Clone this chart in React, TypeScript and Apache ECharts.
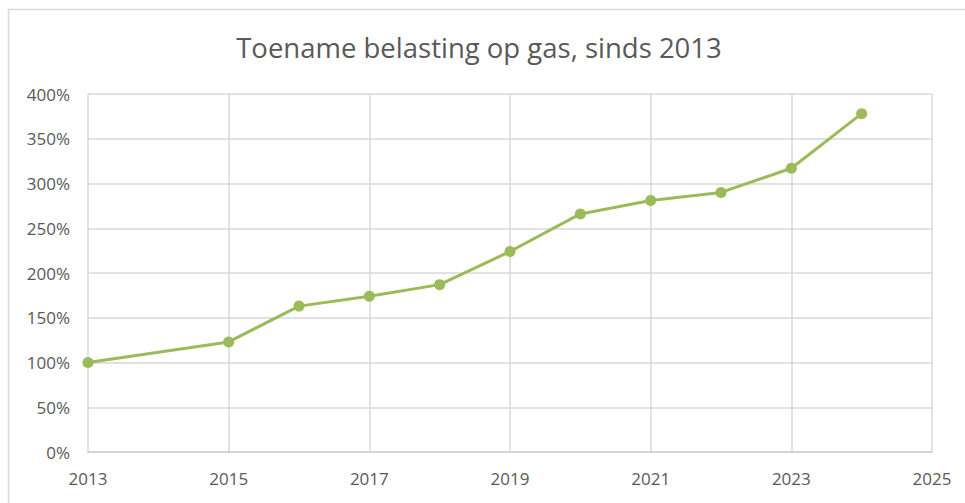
import React, { useEffect, useRef } from "react";
import * as echarts from "echarts";

const years = [2013, 2015, 2016, 2017, 2018, 2019, 2020, 2021, 2022, 2023, 2024];
const increase = [100, 123, 163, 174, 187, 224, 266, 281, 290, 317, 378];
const titleText = "Toename belasting op gas, sinds 2013";

export default function App() {
  const ref = useRef<HTMLDivElement>(null);
  useEffect(() => {
    if (!ref.current) return;
    const chart = echarts.init(ref.current, null, { renderer: "svg" });
    const font = "'Open Sans', sans-serif";
    chart.setOption({
      animation: false,
      backgroundColor: "#ffffff",
      title: {
        text: titleText,
        left: 474,
        top: 28,
        textAlign: "center",
        textStyle: { fontFamily: font, fontSize: 27.5, fontWeight: "normal", color: "#595959" },
      },
      graphic: [
        {
          type: "rect",
          shape: { x: 8.5, y: 9.5, width: 1000, height: 600 },
          style: { fill: "none", stroke: "#d9d9d9", lineWidth: 1.5 },
          silent: true,
        },
      ],
      grid: { left: 88, right: 33, top: 94, bottom: 51 },
      xAxis: {
        type: "value",
        min: 2013,
        max: 2025,
        interval: 2,
        axisLine: { show: true, lineStyle: { color: "#d0d0d0", width: 1.5 } },
        axisTick: { show: false },
        splitLine: { show: true, lineStyle: { color: "#d9d9d9", width: 1.5 } },
        axisLabel: { color: "#595959", fontFamily: font, fontSize: 17, margin: 18, formatter: (v: number) => String(v) },
      },
      yAxis: {
        type: "value",
        min: 0,
        max: 400,
        interval: 50,
        axisLine: { show: false },
        axisTick: { show: false },
        splitLine: { show: true, lineStyle: { color: "#d9d9d9", width: 1.5 } },
        axisLabel: { color: "#595959", fontFamily: font, fontSize: 17, margin: 18, formatter: (v: number) => v + "%" },
      },
      series: [
        {
          type: "line",
          data: years.map((y, i) => [y, increase[i]]),
          symbol: "circle",
          symbolSize: 11,
          lineStyle: { color: "#9bbb59", width: 3 },
          itemStyle: { color: "#9bbb59" },
        },
      ],
    });
    return () => chart.dispose();
  }, []);
  return <div ref={ref} style={{ position: "fixed", left: 0, top: 0, width: 965, height: 503 }} />;
}
